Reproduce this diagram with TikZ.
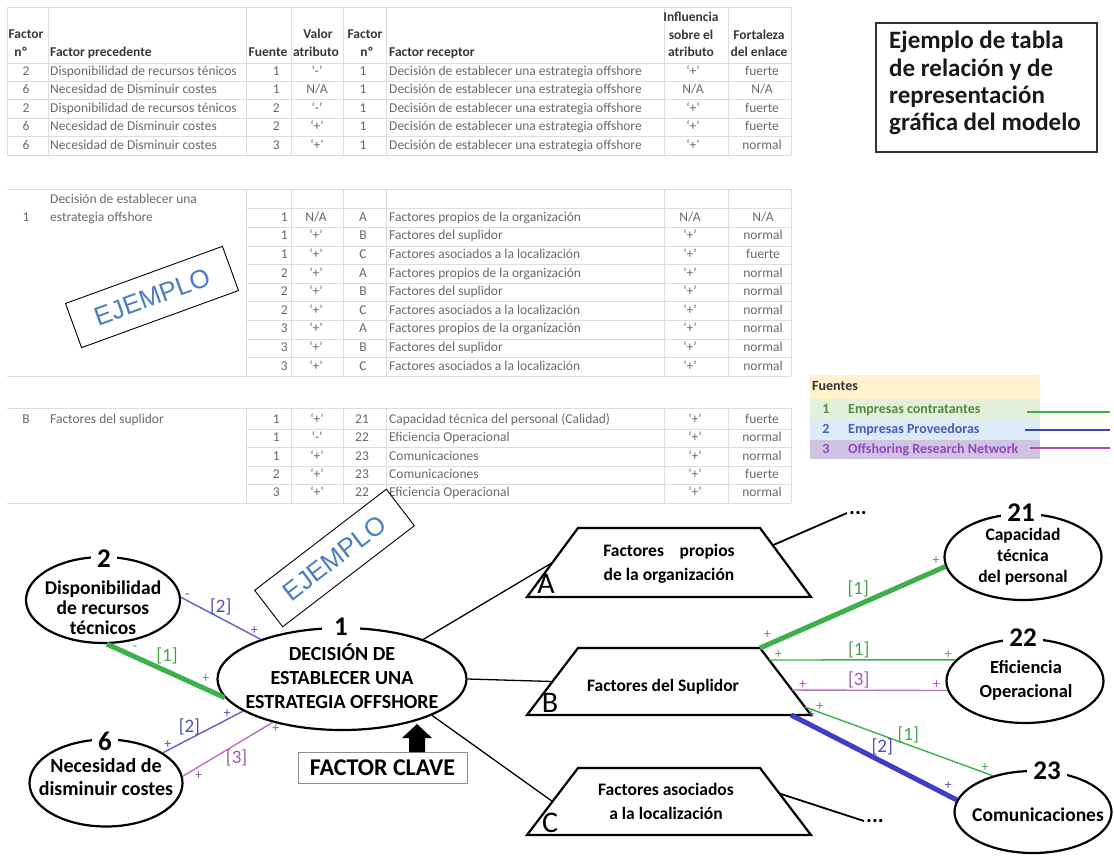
\documentclass[tikz,border=0pt]{standalone}
\usepackage{fontspec}
\setmainfont{Carlito}
\newfontfamily\stampfont{Liberation Sans}
\usetikzlibrary{shapes.geometric,calc}

\definecolor{gridgray}{RGB}{220,220,220}
\definecolor{celltext}{RGB}{105,105,105}
\definecolor{headtext}{RGB}{55,55,55}
\definecolor{srcgreen}{RGB}{62,176,74}
\definecolor{srcblue}{RGB}{62,62,200}
\definecolor{thinblue}{RGB}{96,96,196}
\definecolor{srcpurple}{RGB}{186,110,196}
\definecolor{lblgreen}{RGB}{76,160,80}
\definecolor{lblblue}{RGB}{80,80,176}
\definecolor{lblpurple}{RGB}{166,84,170}
\definecolor{stampblue}{RGB}{74,126,190}
\definecolor{legyellow}{RGB}{255,242,204}
\definecolor{leggreen}{RGB}{226,239,218}
\definecolor{legblue}{RGB}{221,235,247}
\definecolor{legpurple}{RGB}{206,196,226}
\definecolor{legtxtgreen}{RGB}{84,140,60}
\definecolor{legtxtblue}{RGB}{70,90,200}
\definecolor{legtxtpurple}{RGB}{150,70,190}

\tikzset{
  gridline/.style={draw=gridgray, line width=0.7pt},
  cell/.style={inner sep=0pt, text height=9.5pt, text depth=3pt, text=celltext, font=\fontsize{13.5}{15}\selectfont},
  head/.style={cell, text=headtext, font=\fontsize{13.5}{15}\selectfont\bfseries},
  legtext/.style={inner sep=0pt, text height=10pt, text depth=3pt, font=\fontsize{14}{16}\selectfont\bfseries},
  stamp/.style={draw=black, line width=0.9pt, fill=white, minimum width=167pt, minimum height=47pt, text=stampblue, font=\stampfont\fontsize{26}{26}\selectfont, inner sep=0pt},
  factor/.style={ellipse, draw=black, line width=2.2pt, inner sep=0pt},
  fnum/.style={fill=white, inner xsep=6pt, inner ysep=1pt, font=\fontsize{27}{27}\selectfont\bfseries},
  ftext/.style={align=center, inner sep=0pt, font=\fontsize{19.5}{20}\selectfont\bfseries},
  trap/.style={draw=black, line width=2.2pt, line join=miter},
  ttext/.style={align=center, inner sep=0pt, font=\fontsize{17.5}{24}\selectfont\bfseries},
  tletter/.style={inner sep=0pt, font=\fontsize{30}{30}\selectfont},
  dots/.style={inner sep=2pt, font=\fontsize{22}{22}\selectfont\bfseries},
  plain link/.style={draw=black, line width=1.3pt},
  src1/.style={draw=srcgreen, line width=1.4pt},
  src1 strong/.style={draw=srcgreen, line width=5pt},
  src2/.style={draw=thinblue, line width=1.4pt},
  src2 strong/.style={draw=srcblue, line width=5pt},
  src3/.style={draw=srcpurple, line width=1.4pt},
  sign/.style={inner sep=1pt, font=\fontsize{14}{14}\selectfont},
  tag/.style={inner sep=1pt, font=\fontsize{19}{19}\selectfont},
}

% trapezoid with corner and side coordinates: name, top y, bottom y
\newcommand\trapz[3]{%
  \coordinate (#1-bl) at (527,#3);
  \coordinate (#1-tl) at (578,#2);
  \coordinate (#1-tr) at (760,#2);
  \coordinate (#1-br) at (811,#3);
  \draw[trap] (#1-bl) -- (#1-tl) -- (#1-tr) -- (#1-br) -- cycle;
  \coordinate (#1-ls) at ($(#1-bl)!0.5!(#1-tl)$);
}

\begin{document}
\begin{tikzpicture}[x=1pt,y=-1pt]
\useasboundingbox (0,0) rectangle (1114,857);
\fill[white] (0,0) rectangle (1114,857);

% ---------------- table 1: precedent factors ----------------
\foreach \x in {7,48,246,291,343,386,664,728,791} \draw[gridline] (\x,7) -- (\x,155);
\foreach \y in {7,63,81.4,99.8,118.2,136.6,155} \draw[gridline] (7,\y) -- (791,\y);

\node[head] (h-fa1) at (26,35) {Factor};
\node[head] (h-fa2) at (21,53) {nº};
\node[head,anchor=west] (h-fp) at (50,53) {Factor precedente};
\node[head] (h-fu) at (268,53) {Fuente};
\node[head] (h-va1) at (318,35) {Valor};
\node[head] (h-va2) at (316,53) {atributo};
\node[head] (h-fb1) at (365,35) {Factor};
\node[head] (h-fb2) at (367,53) {nº};
\node[head,anchor=west] (h-fr) at (389,53) {Factor receptor};
\node[head] (h-in1) at (691,18) {Influencia};
\node[head] (h-in2) at (691,36) {sobre el};
\node[head] (h-in3) at (691,53) {atributo};
\node[head] (h-fo1) at (759,36) {Fortaleza};
\node[head] (h-fo2) at (759,53) {del enlace};

\foreach \ca/\cb/\cc/\cd/\ce/\cf/\cg/\ch [count=\i] in {
  2/Disponibilidad de recursos ténicos/1/‘-’/1/Decisión de establecer una estrategia offshore/‘+’/fuerte,
  6/Necesidad de Disminuir costes/1/{N/A}/1/Decisión de establecer una estrategia offshore/{N/A}/{N/A},
  2/Disponibilidad de recursos ténicos/2/‘-’/1/Decisión de establecer una estrategia offshore/‘+’/fuerte,
  6/Necesidad de Disminuir costes/2/‘+’/1/Decisión de establecer una estrategia offshore/‘+’/fuerte,
  6/Necesidad de Disminuir costes/3/‘+’/1/Decisión de establecer una estrategia offshore/‘+’/normal}
{
  \pgfmathsetmacro{\yy}{72.2+(\i-1)*18.4}
  \node[cell] (ta-\i-1) at (26,\yy) {\ca};
  \node[cell,anchor=west] (ta-\i-2) at (50,\yy) {\cb};
  \node[cell,anchor=east] (ta-\i-3) at (280,\yy) {\cc};
  \node[cell] (ta-\i-4) at (317,\yy) {\cd};
  \node[cell] (ta-\i-5) at (363,\yy) {\ce};
  \node[cell,anchor=west] (ta-\i-6) at (389,\yy) {\cf};
  \node[cell] (ta-\i-7) at (693,\yy) {\cg};
  \node[cell] (ta-\i-8) at (762,\yy) {\ch};
}

% ---------------- table 2: key decision ----------------
\draw[gridline] (7,189) -- (791,189);
\draw[gridline] (7,376) -- (791,376);
\foreach \k in {0,...,8} \draw[gridline] (246,{208.7+\k*18.6}) -- (791,{208.7+\k*18.6});
\foreach \x in {246,291,343,386,664,728,791} \draw[gridline] (\x,189) -- (\x,376);

\node[cell] (tb-id) at (26,218) {1};
\node[cell,anchor=west] (tb-name1) at (50,200) {Decisión de establecer una};
\node[cell,anchor=west] (tb-name2) at (50,218) {estrategia offshore};
\foreach \cc/\cd/\ce/\cf/\cg/\ch [count=\i] in {
  1/{N/A}/A/Factores propios de la organización/{N/A}/{N/A},
  1/‘+’/B/Factores del suplidor/‘+’/normal,
  1/‘+’/C/Factores asociados a la localización/‘+’/fuerte,
  2/‘+’/A/Factores propios de la organización/‘+’/normal,
  2/‘+’/B/Factores del suplidor/‘+’/normal,
  2/‘+’/C/Factores asociados a la localización/‘+’/normal,
  3/‘+’/A/Factores propios de la organización/‘+’/normal,
  3/‘+’/B/Factores del suplidor/‘+’/normal,
  3/‘+’/C/Factores asociados a la localización/‘+’/normal}
{
  \pgfmathsetmacro{\yy}{218+(\i-1)*18.6}
  \node[cell,anchor=east] (tb-\i-3) at (288,\yy) {\cc};
  \node[cell] (tb-\i-4) at (316,\yy) {\cd};
  \node[cell] (tb-\i-5) at (363,\yy) {\ce};
  \node[cell,anchor=west] (tb-\i-6) at (389,\yy) {\cf};
  \node[cell] (tb-\i-7) at (690,\yy) {\cg};
  \node[cell] (tb-\i-8) at (763,\yy) {\ch};
}

% ---------------- table 3: supplier factors ----------------
\draw[gridline] (7,408) -- (791,408);
\draw[gridline] (7,503) -- (791,503);
\foreach \k in {1,...,4} \draw[gridline] (246,{410.8+\k*18.4}) -- (791,{410.8+\k*18.4});
\foreach \x in {246,291,343,386,664,728,791} \draw[gridline] (\x,408) -- (\x,503);

\node[cell] (tc-id) at (26,420) {B};
\node[cell,anchor=west] (tc-name) at (50,420) {Factores del suplidor};
\foreach \cc/\cd/\ce/\cf/\cg/\ch [count=\i] in {
  1/‘+’/21/Capacidad técnica del personal (Calidad)/‘+’/fuerte,
  1/‘-’/22/Eficiencia Operacional/‘+’/normal,
  1/‘+’/23/Comunicaciones/‘+’/normal,
  2/‘+’/23/Comunicaciones/‘+’/fuerte,
  3/‘+’/22/Eficiencia Operacional/‘+’/normal}
{
  \pgfmathsetmacro{\yy}{420+(\i-1)*18.4}
  \node[cell,anchor=east] (tc-\i-3) at (280,\yy) {\cc};
  \node[cell] (tc-\i-4) at (317,\yy) {\cd};
  \node[cell] (tc-\i-5) at (362,\yy) {\ce};
  \node[cell,anchor=west] (tc-\i-6) at (389,\yy) {\cf};
  \node[cell] (tc-\i-7) at (695,\yy) {\cg};
  \node[cell] (tc-\i-8) at (762,\yy) {\ch};
}

\node[stamp, rotate=20] (ej1) at (152,297) {EJEMPLO};

% ---------------- title ----------------
\node[draw=black!80, line width=1.8pt, minimum width=221pt, minimum height=129pt, inner sep=0pt] (titlebox) at (986.5,87.5) {};
\node[anchor=north west, align=left, inner sep=0pt, font=\fontsize{25}{27.3}\selectfont\bfseries, text=black!90] (titletext) at (889,31) {Ejemplo de tabla\\de relación y de\\representación\\gráfica del modelo};

% ---------------- legend of sources ----------------
\fill[legyellow] (810,375) rectangle (1040,399);
\fill[leggreen] (810,399) rectangle (1040,420);
\fill[legblue] (810,420) rectangle (1040,440);
\fill[legpurple] (810,440) rectangle (1040,459);
\node[legtext, anchor=west, text=black!80] (lg-title) at (812,387) {Fuentes};
\node[legtext, text=legtxtgreen] (lg-n1) at (826,410) {1};
\node[legtext, anchor=west, text=legtxtgreen] (lg-t1) at (848,410) {Empresas contratantes};
\node[legtext, text=legtxtblue] (lg-n2) at (826,430) {2};
\node[legtext, anchor=west, text=legtxtblue] (lg-t2) at (848,430) {Empresas Proveedoras};
\node[legtext, text=legtxtpurple] (lg-n3) at (826,450) {3};
\node[legtext, anchor=west, text=legtxtpurple] (lg-t3) at (848,450) {Offshoring Research Network};
\coordinate (lg1a) at (1027,412); \coordinate (lg1b) at (1110,412);
\coordinate (lg2a) at (1025,430); \coordinate (lg2b) at (1110,430);
\coordinate (lg3a) at (1030,448); \coordinate (lg3b) at (1110,448);
\draw[src1] (lg1a) -- (lg1b);
\draw[draw=srcblue, line width=1.4pt] (lg2a) -- (lg2b);
\draw[draw=lblpurple, line width=1.4pt] (lg3a) -- (lg3b);

% ---------------- model diagram ----------------
\node[factor, minimum width=154pt, minimum height=86pt] (n2) at (103,600) {};
\node[factor, minimum width=249pt, minimum height=102pt] (n1) at (342,679) {};
\node[factor, minimum width=153pt, minimum height=87pt] (n6) at (106,783) {};
\node[factor, minimum width=157pt, minimum height=86pt] (n21) at (1023,557) {};
\node[factor, minimum width=157pt, minimum height=84pt] (n22) at (1025,681) {};
\node[factor, minimum width=157pt, minimum height=82pt] (n23) at (1033,812) {};

\node[ftext] (n2t) at (103,608) {Disponibilidad\\de recursos\\técnicos};
\node[ftext, font=\fontsize{20}{24}\selectfont\bfseries] (n1t) at (342,676) {DECISIÓN DE\\ESTABLECER UNA\\ESTRATEGIA OFFSHORE};
\node[ftext, font=\fontsize{20}{23}\selectfont\bfseries] (n6t) at (106,777) {Necesidad de\\disminuir costes};
\node[ttext, font=\fontsize{17.5}{21}\selectfont\bfseries] (n21t) at (1023,557) {Capacidad\\técnica\\del personal};
\node[ttext, font=\fontsize{18.5}{24}\selectfont\bfseries] (n22t) at (1026,680) {Eficiencia\\Operacional};
\node[ttext, font=\fontsize{19.5}{24}\selectfont\bfseries] (n23t) at (1038,815) {Comunicaciones};

% categories
\trapz{A}{528}{597}
\trapz{B}{648}{715}
\trapz{C}{768}{835}
\node[ttext] (At) at (669,564) {Factores\hspace{0.9em}propios\\de la organización};
\node[ttext] (Bt) at (663,687) {Factores del Suplidor};
\node[ttext] (Ct) at (666,801) {Factores asociados\\a la localización};
\node[tletter] (Al) at (546,584) {A};
\node[tletter] (Bl) at (550,703) {B};
\node[tletter] (Cl) at (550,823) {C};

\draw[plain link] (n1.26) -- (A-ls);
\draw[plain link] (n1.east) -- (B-ls);
\draw[plain link] (n1.-22) -- (C-ls);

\coordinate (A-p) at ($(A-tr)!0.25!(A-br)$);
\coordinate (C-p) at ($(C-tr)!0.38!(C-br)$);
\node[dots] (Adots) at (858,513) {...};
\node[dots] (Cdots) at (875,821) {...};
\draw[plain link, line width=1.8pt] (A-p) -- (Adots.west);
\draw[plain link, line width=1.8pt] (C-p) -- (Cdots.west);

% links into the key decision
\draw[src1 strong] (n2.-85) -- (n1.189)
  node[sign, text=lblgreen, pos=0.24, above=3pt] (l1a) {-}
  node[tag, text=lblgreen, pos=0.51, above=4pt] (l1b) {[1]}
  node[sign, text=lblgreen, pos=0.84, above=3pt] (l1c) {+};
\draw[src2] (n2.2) -- (n1.154)
  node[sign, text=lblblue, pos=0.08, above] (l2a) {-}
  node[tag, text=lblblue, pos=0.5, above=2pt] (l2b) {[2]}
  node[sign, text=lblblue, pos=0.92, above] (l2c) {+};
\draw[src2] (n6.28) -- (n1.198)
  node[sign, text=lblblue, pos=0.06, above] (l3a) {+}
  node[tag, text=lblblue, pos=0.33, above=2pt] (l3b) {[2]}
  node[sign, text=lblblue, pos=0.8, above] (l3c) {+};
\draw[src3] (n6.5) -- (n1.212)
  node[sign, text=lblpurple, pos=0.12, below right] (l4a) {+}
  node[tag, text=lblpurple, pos=0.6, below=4pt] (l4b) {[3]}
  node[sign, text=lblpurple, pos=0.98, below right] (l4c) {+};

% links out of the supplier factors
\coordinate (B-p1) at ($(B-tr)!0.179!(B-br)$);
\coordinate (B-p3) at ($(B-tr)!0.627!(B-br)$);
\coordinate (B-p4) at ($(B-tr)!0.88!(B-br)$);
\coordinate (B-p2) at ($(B-bl)!0.93!(B-br)$);
\draw[src1 strong] (B-tr) -- (n21.187)
  node[sign, text=lblgreen, pos=0.04, above=3pt] (r1a) {+}
  node[tag, text=lblgreen, pos=0.53, above=4pt] (r1b) {[1]}
  node[sign, text=lblgreen, pos=0.95, above=3pt] (r1c) {+};
\draw[src1] (B-p1) -- (n22.163)
  node[sign, text=lblgreen, pos=0.05, above] (r2a) {+}
  node[tag, text=lblgreen, pos=0.48, above] (r2b) {[1]}
  node[sign, text=lblgreen, pos=0.96, above] (r2c) {+};
\draw[src3] (B-p3) -- (n22.187)
  node[sign, text=lblpurple, pos=0.07, above] (r3a) {+}
  node[tag, text=lblpurple, pos=0.43, above] (r3b) {[3]}
  node[sign, text=lblpurple, pos=0.93, above] (r3c) {+};
\draw[src1] (B-p4) -- (n23.138)
  node[sign, text=lblgreen, pos=0.08, above] (r4a) {+}
  node[tag, text=lblgreen, pos=0.55, above] (r4b) {[1]}
  node[sign, text=lblgreen, pos=0.96, above] (r4c) {+};
\draw[src2 strong] (B-p2) -- (n23.171)
  node[sign, text=lblblue, pos=0.12, above=3pt] (r5a) {+}
  node[tag, text=lblblue, pos=0.55, above=3pt] (r5b) {[2]}
  node[sign, text=lblblue, pos=0.95, above=3pt] (r5c) {+};

% factor numbers breaking the outlines
\node[fnum] (n2n) at (104,559) {2};
\node[fnum, inner xsep=12pt] (n1n) at (341,627) {1};
\node[fnum] (n6n) at (105,741) {6};
\node[fnum] (n21n) at (1021,513) {21};
\node[fnum] (n22n) at (1023,638) {22};
\node[fnum] (n23n) at (1047,771) {23};

% key factor marker
\node[draw=black!45, line width=1pt, minimum width=169pt, minimum height=31pt, inner sep=0pt, font=\fontsize{24}{24}\selectfont\bfseries] (key) at (382.5,767.5) {FACTOR CLAVE};
\fill (409,752) -- (409,738) -- (402,738) -- (417,724) -- (432,738) -- (425,738) -- (425,752) -- cycle;

\node[stamp, rotate=37.5, minimum width=166pt, minimum height=46pt] (ej2) at (334.5,558) {EJEMPLO};
\end{tikzpicture}
\end{document}
